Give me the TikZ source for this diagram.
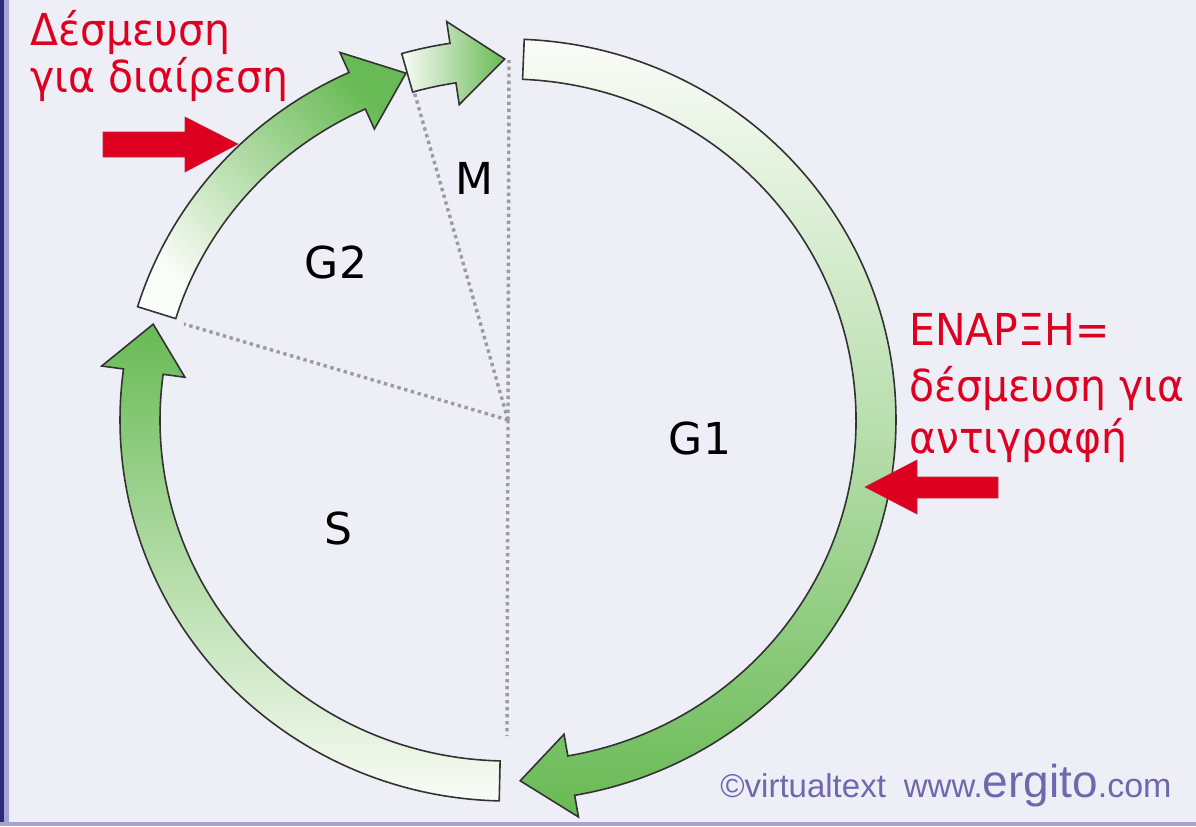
\documentclass[tikz,border=0pt]{standalone}
\usepackage{fontspec}
\setmainfont{DejaVu Sans}
\newfontfamily\notefont[FakeStretch=0.93]{DejaVu Sans}
\newfontfamily\markfont{Liberation Sans}
\usepackage{xcolor}

\definecolor{cellgreen}{RGB}{104,186,84}
\definecolor{palegreen}{RGB}{250,252,247}
\definecolor{alertred}{RGB}{222,0,32}
\definecolor{bgpaper}{RGB}{238,239,246}
\definecolor{navyedge}{RGB}{42,44,122}
\definecolor{lilacedge}{RGB}{168,162,210}
\definecolor{markpurple}{RGB}{112,104,172}
\definecolor{dotgray}{RGB}{155,155,160}

\begin{document}
\begin{tikzpicture}[x=0.5pt,y=0.5pt,yscale=-1,xscale=1,
  band/.style={draw=black!80,line width=0.8pt},
  phase/.style={inner sep=0pt,font=\fontsize{22}{22}\selectfont},
  note/.style={inner sep=0pt,anchor=base west,text=alertred,font=\notefont\fontsize{22}{22}\selectfont},
  divider/.style={dotgray,line width=1.7pt,dash pattern=on 1.7pt off 1.8pt},
  pointer/.style={fill=alertred,draw=alertred!70!gray,line width=0.3pt}]

\useasboundingbox (0,0) rectangle (1196,826);
\fill[bgpaper] (0,0) rectangle (1196,826);
\fill[lilacedge] (0,0) rectangle (9,826);
\fill[navyedge] (0,0) rectangle (3.5,826);
\fill[lilacedge] (0,822) rectangle (1196,826);

% radial dividers
\coordinate (c) at (508,420);
\coordinate (mtop) at (509,60);
\coordinate (mside) at (412,84);
\coordinate (sside) at (184,324);
\coordinate (sbot) at (507,736);
\draw[divider] (c) -- (mtop);
\draw[divider] (c) -- (mside);
\draw[divider] (c) -- (sside);
\draw[divider] (c) -- (sbot);

% cycle arrows
\begin{scope}[shift={(508,420)}]
\path[band,top color=palegreen,bottom color=cellgreen,middle color=cellgreen!45!palegreen] (272.4:388 and 381) arc[start angle=272.4,end angle=440.1,x radius=388,y radius=381] -- (440.1:410 and 403) -- (448.1:368 and 361) -- (440.1:326 and 319) -- (440.1:348 and 341) arc[start angle=440.1,end angle=272.4,x radius=348,y radius=341] -- cycle;
\path[band,top color=cellgreen,bottom color=palegreen] (91.3:388 and 381) arc[start angle=91.3,end angle=187.7,x radius=388,y radius=381] -- (187.7:410 and 403) -- (195.4:368 and 361) -- (187.7:326 and 319) -- (187.7:348 and 341) arc[start angle=187.7,end angle=91.3,x radius=348,y radius=341] -- cycle;
\path[band,top color=cellgreen,bottom color=palegreen,shading angle=-45] (197.3:388 and 381) arc[start angle=197.3,end angle=245.8,x radius=388,y radius=381] -- (245.8:410 and 403) -- (253.9:368 and 361) -- (245.8:326 and 319) -- (245.8:348 and 341) arc[start angle=245.8,end angle=197.3,x radius=348,y radius=341] -- cycle;
\path[band,left color=palegreen,right color=cellgreen] (254.1:388 and 381) arc[start angle=254.1,end angle=261.4,x radius=388,y radius=381] -- (261.4:410 and 403) -- (269.5:368 and 361) -- (261.4:326 and 319) -- (261.4:348 and 341) arc[start angle=261.4,end angle=254.1,x radius=348,y radius=341] -- cycle;
\end{scope}

% red pointers
\path[pointer] (103,132) -- (185,132) -- (185,117) -- (238,144) -- (185,172) -- (185,157) -- (103,157) -- cycle;
\path[pointer] (998,477) -- (917,477) -- (917,460) -- (865,487) -- (917,514) -- (917,498) -- (998,498) -- cycle;

% phase labels
\node[phase] (m) at (474,178) {M};
\node[phase] (g2) at (336,262) {G2};
\node[phase] (g1) at (700,438) {G1};
\node[phase] (s) at (338,528) {S};

\node[note] (div1) at (30,45) {Δέσμευση};
\node[note] (div2) at (30,92) {για διαίρεση};
\node[note] (rep1) at (909,345) {ΕΝΑΡΞΗ=};
\node[note] (rep2) at (909,401) {δέσμευση για};
\node[note] (rep3) at (909,453) {αντιγραφή};

\node[inner sep=0pt,anchor=base west,text=markpurple,font=\markfont] (mark) at (720,797) {\fontsize{16.5}{17}\selectfont ©virtualtext\hspace{9pt}www.\fontsize{23}{23}\selectfont ergito\fontsize{17}{17}\selectfont .com};
\end{tikzpicture}
\end{document}
